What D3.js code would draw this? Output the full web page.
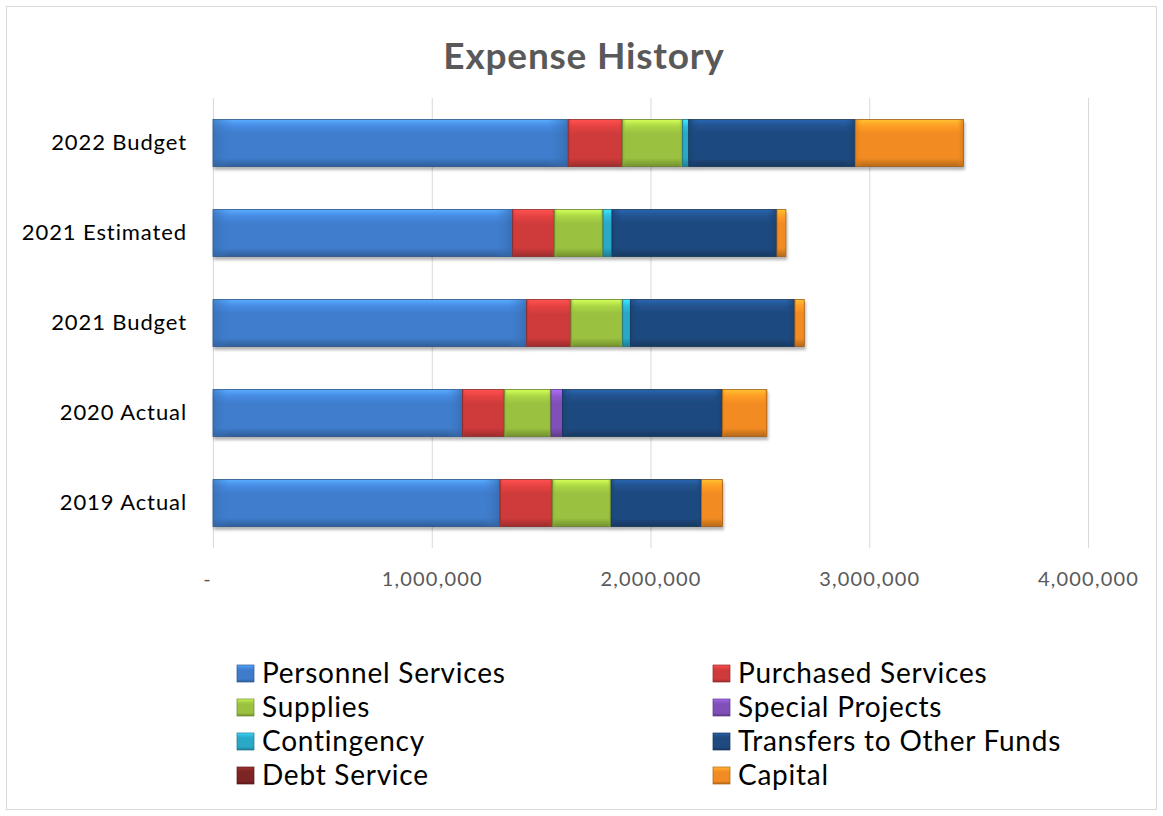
<!DOCTYPE html>
<html>
<head>
<meta charset="utf-8">
<script src="https://cdn.jsdelivr.net/npm/d3@7"></script>
<style>
  html, body { margin: 0; padding: 0; background: #fff; }
  svg { display: block; }
</style>
</head>
<body>
<svg id="chart" width="1163" height="816"></svg>
<script>
// Years shown on the vertical axis, top to bottom
const categories = ["2022 Budget", "2021 Estimated", "2021 Budget", "2020 Actual", "2019 Actual"];

// Expense series (dollars), one value per category in the order above
const seriesNames = ["Personnel Services", "Purchased Services", "Supplies", "Special Projects",
                     "Contingency", "Transfers to Other Funds", "Debt Service", "Capital"];
const personnel  = [1624000, 1370000, 1434000, 1141000, 1312000];
const purchased  = [ 248000,  191000,  202000,  191000,  240000];
const supplies   = [ 275000,  222000,  237000,  213000,  268000];
const special    = [      0,       0,       0,   53000,       0];
const contingency= [  28000,   41000,   35000,       0,       0];
const transfers  = [ 761000,  754000,  752000,  731000,  413000];
const debt       = [      0,       0,       0,       0,       0];
const capital    = [ 495000,   41000,   43000,  203000,   96000];
const seriesValues = [personnel, purchased, supplies, special, contingency, transfers, debt, capital];

const tickValues = [0, 1000000, 2000000, 3000000, 4000000];
const tickLabels = ["-", "1,000,000", "2,000,000", "3,000,000", "4,000,000"];

const colors = ["#3f7dcc", "#cf3b3b", "#9ac13f", "#8050b8", "#2aa8c8", "#1e4a80", "#7d2424", "#f28c22"];

const FONT = "'Lato', 'Open Sans', sans-serif";
const svg = d3.select("#chart");

// Outer chart frame
svg.append("rect")
  .attr("x", 6.5).attr("y", 6.5).attr("width", 1150).attr("height", 803)
  .attr("fill", "#fff").attr("stroke", "#d9d9d9").attr("stroke-width", 1);

const defs = svg.append("defs");

// Bevel gradients: lit top edge, darker bottom edge
colors.forEach((c, i) => {
  const g = defs.append("linearGradient").attr("id", "bev" + i)
    .attr("x1", 0).attr("y1", 0).attr("x2", 0).attr("y2", 1);
  const base = d3.color(c);
  g.append("stop").attr("offset", "0%").attr("stop-color", base.brighter(0.9));
  g.append("stop").attr("offset", "14%").attr("stop-color", base.brighter(0.3));
  g.append("stop").attr("offset", "30%").attr("stop-color", base);
  g.append("stop").attr("offset", "82%").attr("stop-color", base);
  g.append("stop").attr("offset", "100%").attr("stop-color", base.darker(0.8));
  const h = defs.append("linearGradient").attr("id", "side" + i)
    .attr("x1", 0).attr("y1", 0).attr("x2", 1).attr("y2", 0);
  h.append("stop").attr("offset", "0%").attr("stop-color", base.darker(0.5)).attr("stop-opacity", 0.6);
  h.append("stop").attr("offset", "6%").attr("stop-color", base).attr("stop-opacity", 0);
  h.append("stop").attr("offset", "94%").attr("stop-color", base).attr("stop-opacity", 0);
  h.append("stop").attr("offset", "100%").attr("stop-color", base.darker(0.6)).attr("stop-opacity", 0.7);
});

const shadow = defs.append("filter").attr("id", "shadow")
  .attr("x", "-5%").attr("y", "-20%").attr("width", "110%").attr("height", "150%");
shadow.append("feDropShadow").attr("dx", 1).attr("dy", 3).attr("stdDeviation", 1.6)
  .attr("flood-color", "#000").attr("flood-opacity", 0.3);

// Title
svg.append("text")
  .attr("x", 584).attr("y", 69)
  .attr("text-anchor", "middle")
  .attr("font-family", FONT).attr("font-weight", "bold").attr("font-size", 37)
  .attr("letter-spacing", 0.8)
  .attr("fill", "#595959")
  .text("Expense History");

// Scales
const x = d3.scaleLinear().domain([0, 4000000]).range([213, 1088]);
const y = d3.scaleBand().domain(categories).range([98, 548]).paddingInner(0.48).paddingOuter(0.24);

// Vertical gridlines
svg.append("g").selectAll("line").data(tickValues).join("line")
  .attr("x1", d => x(d) + 0.5).attr("x2", d => x(d) + 0.5)
  .attr("y1", 98).attr("y2", 548)
  .attr("stroke", "#d9d9d9").attr("stroke-width", 1);

// Bottom axis labels
const xAxis = d3.axisBottom(x).tickValues(tickValues)
  .tickFormat((d, i) => tickLabels[i]).tickSize(0).tickPadding(0);
const xg = svg.append("g").attr("transform", "translate(0,572)").call(xAxis);
xg.select(".domain").remove();
xg.selectAll("text")
  .attr("font-family", FONT).attr("font-size", 20).attr("fill", "#595959")
  .attr("letter-spacing", 1.2)
  .attr("dy", "0.7em")
  .attr("dx", (d, i) => i === 0 ? -6 : 0);

// Left category labels
const yAxis = d3.axisLeft(y).tickSize(0).tickPadding(26);
const yg = svg.append("g").attr("transform", "translate(213,0)").call(yAxis);
yg.select(".domain").remove();
yg.selectAll("text")
  .attr("font-family", FONT).attr("font-size", 22).attr("fill", "#000")
  .attr("letter-spacing", 0.9);

// Stacked bars
const rows = categories.map((c, ci) => {
  const r = { category: c };
  seriesNames.forEach((s, si) => { r[s] = seriesValues[si][ci]; });
  return r;
});
const stacked = d3.stack().keys(seriesNames)(rows);

const barLayer = svg.append("g").attr("filter", "url(#shadow)");
stacked.forEach((layer, si) => {
  const g = barLayer.append("g");
  const segs = layer.filter(d => d[1] - d[0] > 0);
  g.selectAll("rect.fill").data(segs).join("rect")
    .attr("class", "fill")
    .attr("x", d => x(d[0])).attr("width", d => x(d[1]) - x(d[0]))
    .attr("y", d => y(d.data.category)).attr("height", y.bandwidth())
    .attr("fill", `url(#bev${si})`)
    .attr("stroke", d3.color(colors[si]).darker(1.2)).attr("stroke-width", 0.8);
  g.selectAll("rect.side").data(segs).join("rect")
    .attr("class", "side")
    .attr("x", d => x(d[0])).attr("width", d => x(d[1]) - x(d[0]))
    .attr("y", d => y(d.data.category)).attr("height", y.bandwidth())
    .attr("fill", `url(#side${si})`);
});

// Legend: two columns, four rows
const legend = svg.append("g");
seriesNames.forEach((name, i) => {
  const col = i % 2, row = Math.floor(i / 2);
  const lx = col === 0 ? 237 : 713;
  const ly = 673 + row * 34;
  legend.append("rect")
    .attr("x", lx).attr("y", ly - 8).attr("width", 17).attr("height", 17)
    .attr("fill", `url(#bev${i})`)
    .attr("stroke", d3.color(colors[i]).darker(1)).attr("stroke-width", 0.7);
  legend.append("text")
    .attr("x", lx + 25).attr("y", ly).attr("dy", "0.36em")
    .attr("font-family", FONT).attr("font-size", 28).attr("fill", "#000")
    .attr("letter-spacing", 0.75)
    .text(name);
});
</script>
</body>
</html>
